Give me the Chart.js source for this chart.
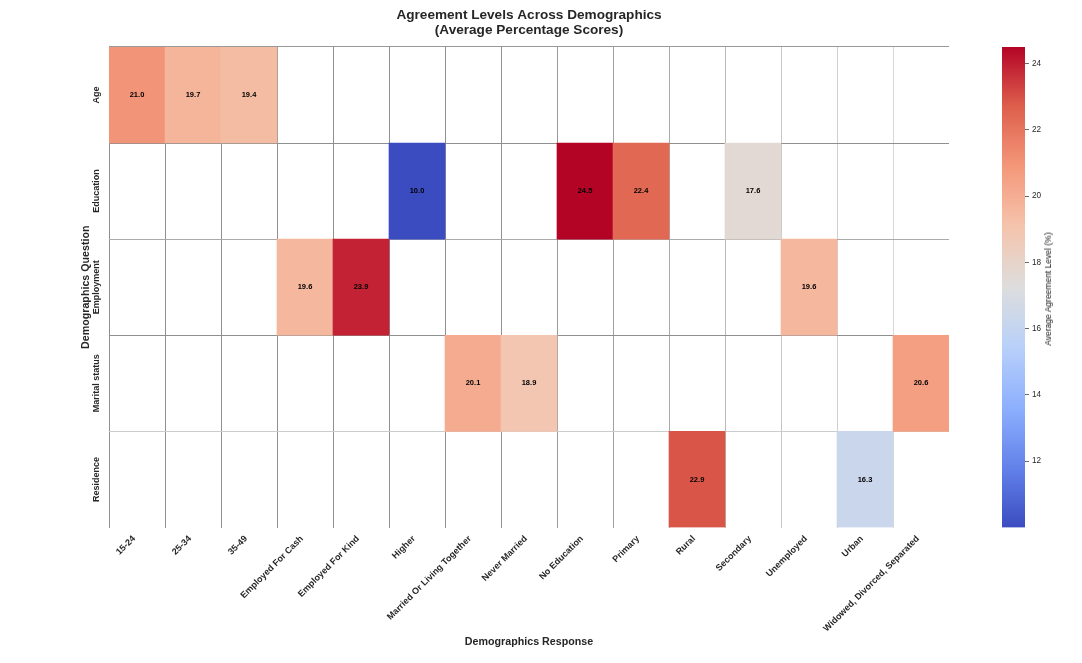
<!DOCTYPE html>
<html>
<head>
<meta charset="utf-8">
<title>Agreement Levels Across Demographics</title>
<script src="https://cdn.jsdelivr.net/npm/chart.js@4.4.1/dist/chart.umd.min.js"></script>
<style>
  html, body { margin: 0; padding: 0; background: #fff; }
  #wrap { position: relative; width: 1082px; height: 663px; overflow: hidden; }
  #main { position: absolute; left: 0; top: 0; }
  #cbar { position: absolute; left: 990px; top: 0; }
  #cbarLabel {
    position: absolute; left: 1048px; top: 289px;
    font: 8.5px "Liberation Sans", Arial, sans-serif; color: #111;
    transform: translate(-50%, -50%) rotate(-90deg); white-space: nowrap;
  }
</style>
</head>
<body>
<div id="wrap">
  <canvas id="main" width="1082" height="663"></canvas>
  <canvas id="cbar" width="70" height="663"></canvas>
  <div id="cbarLabel">Average Agreement Level (%)</div>
</div>
<script>
// rows / columns of the heatmap
const questions = ['Age', 'Education', 'Employment', 'Marital status', 'Residence'];
const responses = ['15-24', '25-34', '35-49', 'Employed For Cash', 'Employed For Kind', 'Higher',
  'Married Or Living Together', 'Never Married', 'No Education', 'Primary', 'Rural', 'Secondary',
  'Unemployed', 'Urban', 'Widowed, Divorced, Separated'];

// average agreement (%) per response, one array per question (null = no cell)
const ageScores        = [21.0, 19.7, 19.4, null, null, null, null, null, null, null, null, null, null, null, null];
const educationScores  = [null, null, null, null, null, 10.0, null, null, 24.5, 22.4, null, 17.6, null, null, null];
const employmentScores = [null, null, null, 19.6, 23.9, null, null, null, null, null, null, null, 19.6, null, null];
const maritalScores    = [null, null, null, null, null, null, 20.1, 18.9, null, null, null, null, null, null, 20.6];
const residenceScores  = [null, null, null, null, null, null, null, null, null, null, 22.9, null, null, 16.3, null];
const colorbarTicks = [12, 14, 16, 18, 20, 22, 24];

const scores = [ageScores, educationScores, employmentScores, maritalScores, residenceScores];
const allVals = scores.flat().filter(v => v != null);
const vmin = Math.min(...allVals);
const vmax = Math.max(...allVals);

const FONT = '"Liberation Sans", Arial, sans-serif';
Chart.defaults.font.family = FONT;
Chart.defaults.color = '#262626';

// coolwarm colormap
const cwStops = [[59,76,192],[98,130,234],[141,176,254],[184,208,249],[221,221,221],
  [245,196,173],[244,152,122],[222,96,77],[180,4,38]];
function coolwarm(t) {
  t = Math.max(0, Math.min(1, t));
  const p = t * 8;
  const i = Math.min(7, Math.floor(p));
  const f = p - i;
  const a = cwStops[i], b = cwStops[i + 1];
  const c = a.map((x, k) => Math.round(x + (b[k] - x) * f));
  return `rgb(${c[0]},${c[1]},${c[2]})`;
}

// grid line shades (they fade out towards the right in the original)
const colLineShades = ['#8f8f8f','#8f8f8f','#8f8f8f','#8f8f8f','#8f8f8f','#8f8f8f','#8f8f8f','#929292',
  '#9a9a9a','#a0a0a0','#aaaaaa','#bbbbbb','#c6c6c6','#cfcfcf','#d8d8d8'];
const rowLineShades = ['#999999', '#8f8f8f', '#aaaaaa', '#8f8f8f', '#cccccc'];

// cell value labels
const cellLabels = {
  id: 'cellLabels',
  afterDatasetsDraw(chart) {
    const ctx = chart.ctx;
    ctx.save();
    ctx.font = 'bold 7.5px ' + FONT;
    ctx.fillStyle = '#000';
    ctx.textAlign = 'center';
    ctx.textBaseline = 'middle';
    chart.data.datasets.forEach((ds, di) => {
      chart.getDatasetMeta(di).data.forEach((bar, i) => {
        const v = ds.values[i];
        if (v == null) return;
        const c = bar.getCenterPoint();
        ctx.fillText(v.toFixed(1), c.x, c.y);
      });
    });
    ctx.restore();
  }
};

// width of widest row label, to centre the rotated labels
const mc = document.createElement('canvas').getContext('2d');
mc.font = 'bold 9px ' + FONT;
const widestRow = Math.max(...questions.map(q => mc.measureText(q).width));

const datasets = questions.map((q, r) => ({
  label: q,
  data: scores[r].map(v => v == null ? null : [r, r + 1]),
  values: scores[r],
  backgroundColor: scores[r].map(v => v == null ? 'rgba(0,0,0,0)' : coolwarm((v - vmin) / (vmax - vmin))),
  borderWidth: 0,
  barPercentage: 1,
  categoryPercentage: 1,
  grouped: false,
  yAxisID: 'y'
}));

new Chart(document.getElementById('main'), {
  type: 'bar',
  data: { labels: responses, datasets },
  plugins: [cellLabels],
  options: {
    responsive: false,
    animation: false,
    layout: { padding: { left: 0, right: 133, top: 0, bottom: 0 } },
    plugins: {
      legend: { display: false },
      tooltip: { enabled: false },
      title: {
        display: true,
        fullSize: false,
        text: ['Agreement Levels Across Demographics', '(Average Percentage Scores)'],
        font: { size: 13.6, weight: 'bold', lineHeight: 1.1 },
        color: '#262626',
        padding: { top: 8, bottom: 9 }
      }
    },
    scales: {
      x: {
        z: 1,
        grid: {
          offset: true,
          drawTicks: false,
          color: c => (c.index != null && c.index < colLineShades.length) ? colLineShades[c.index] : 'rgba(0,0,0,0)'
        },
        border: { display: false },
        ticks: {
          autoSkip: false, minRotation: 45, maxRotation: 45, padding: 6, labelOffset: -3,
          font: { size: 9, weight: 'bold' }, color: '#262626'
        },
        title: {
          display: true, text: 'Demographics Response',
          font: { size: 10.7, weight: 'bold' }, color: '#262626',
          padding: { top: 0, bottom: 14.5 }
        },
        afterFit: s => { s.height = 135.5; }
      },
      y: {
        z: 1,
        type: 'linear',
        min: 0, max: questions.length,
        reverse: true,
        weight: 0,
        ticks: { display: false, stepSize: 1 },
        grid: {
          drawTicks: false,
          color: c => (c.tick && c.tick.value < rowLineShades.length) ? rowLineShades[c.tick.value] : 'rgba(0,0,0,0)'
        },
        border: { display: false },
        afterFit: s => { s.width = 0; }
      },
      yLab: {
        type: 'category',
        labels: questions,
        position: 'left',
        offset: true,
        weight: 1,
        grid: { display: false, drawTicks: false },
        border: { display: false },
        ticks: {
          minRotation: 90, maxRotation: 90, crossAlign: 'center',
          padding: 12 - widestRow / 2,
          font: { size: 9, weight: 'bold' }, color: '#262626'
        },
        title: {
          display: true, text: 'Demographics Question',
          font: { size: 10.7, weight: 'bold' }, color: '#262626',
          padding: { top: 79.6, bottom: 0 }
        },
        afterFit: s => { s.width = 109; }
      }
    }
  }
});

// colour bar
new Chart(document.getElementById('cbar'), {
  type: 'bar',
  data: {
    labels: [''],
    datasets: [{
      data: [[vmin, vmax]],
      backgroundColor: c => {
        const ch = c.chart;
        if (!ch.chartArea) return 'rgba(0,0,0,0)';
        const ys = ch.scales.y;
        const g = ch.ctx.createLinearGradient(0, ys.getPixelForValue(vmin), 0, ys.getPixelForValue(vmax));
        for (let k = 0; k <= 16; k++) g.addColorStop(k / 16, coolwarm(k / 16));
        return g;
      },
      borderWidth: 0,
      barPercentage: 1,
      categoryPercentage: 1
    }]
  },
  options: {
    responsive: false,
    animation: false,
    layout: { padding: { left: 12, top: 47, bottom: 135.5, right: 0 } },
    plugins: { legend: { display: false }, tooltip: { enabled: false } },
    scales: {
      x: { display: false },
      y: {
        position: 'right',
        min: vmin, max: vmax,
        afterBuildTicks: s => { s.ticks = colorbarTicks.map(v => ({ value: v })); },
        grid: { drawOnChartArea: false, tickLength: 4, tickColor: '#444', tickWidth: 0.8 },
        border: { display: false },
        ticks: { padding: 3, font: { size: 8.2 }, color: '#262626' },
        afterFit: s => { s.width = 35; }
      }
    }
  }
});
</script>
</body>
</html>
